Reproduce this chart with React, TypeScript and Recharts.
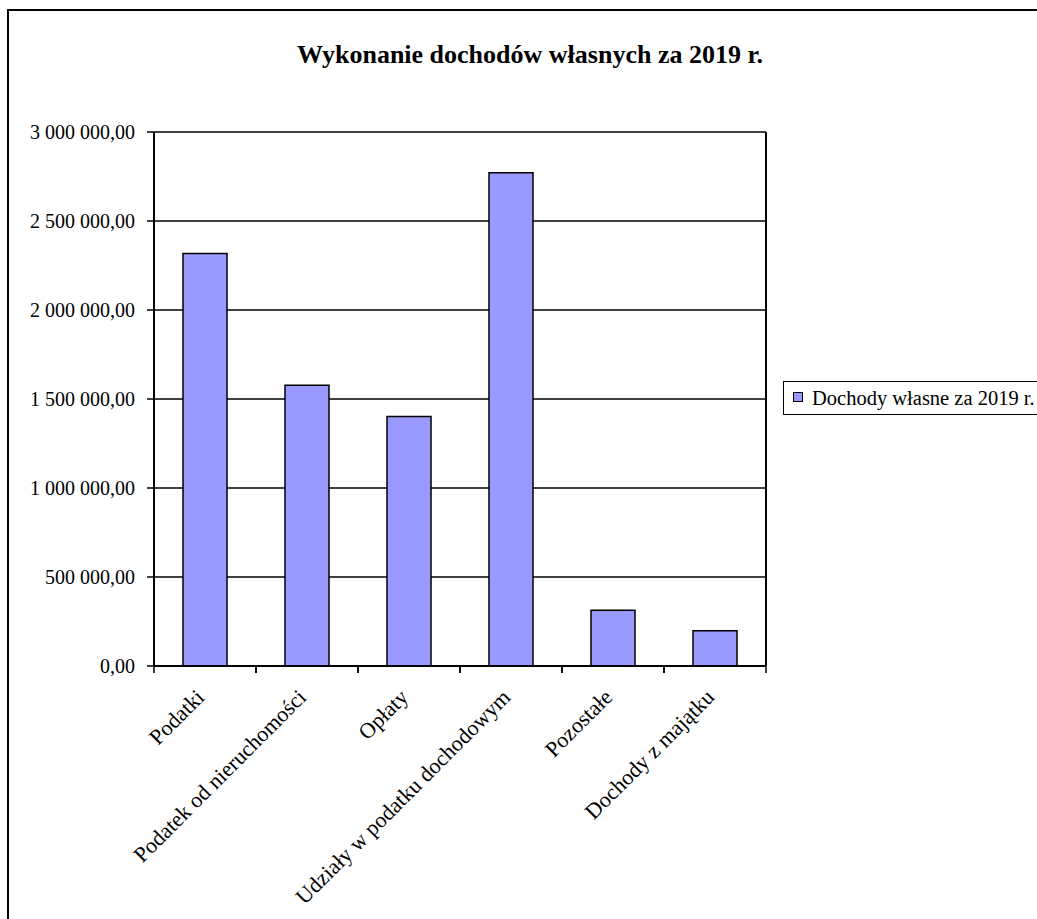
import React from "react";
import {
  BarChart,
  Bar,
  XAxis,
  YAxis,
  CartesianGrid,
  Legend,
} from "recharts";

const categories = [
  "Podatki",
  "Podatek od nieruchomości",
  "Opłaty",
  "Udziały w podatku dochodowym",
  "Pozostałe",
  "Dochody z majątku",
];

const values = [2318000, 1577000, 1401000, 2771000, 313000, 198000];

const yTicks = [0, 500000, 1000000, 1500000, 2000000, 2500000, 3000000];

const seriesName = "Dochody własne za 2019 r.";
const title = "Wykonanie dochodów własnych za 2019 r.";

const data = categories.map((name, i) => ({ name, value: values[i] }));

const FONT = '"Liberation Serif", "Times New Roman", serif';

// 3000000 -> "3 000 000,00"
const fmt = (v: number) => {
  const [int, dec] = v.toFixed(2).split(".");
  return int.replace(/\B(?=(\d{3})+(?!\d))/g, " ") + "," + dec;
};

// category label, plus Excel-style tick marks on the category boundaries
const CatTick = (props: any) => {
  const { x, y, payload, width, visibleTicksCount } = props;
  const half =
    width && visibleTicksCount ? width / visibleTicksCount / 2 : 51;
  return (
    <g>
      <line x1={x - half} y1={y} x2={x - half} y2={y + 7} stroke="#000" strokeWidth={1.5} />
      <line x1={x + half} y1={y} x2={x + half} y2={y + 7} stroke="#000" strokeWidth={1.5} />
      <g transform={`translate(${x - 8},${y + 24})`}>
        <text
          x={0}
          y={0}
          dy="0.55em"
          textAnchor="end"
          transform="rotate(-45)"
          fontFamily={FONT}
          fontSize={22}
          fill="#000"
        >
          {payload.value}
        </text>
      </g>
    </g>
  );
};

const NoTick = () => <g />;

const renderLegend = (props: any) => (
  <div
    style={{
      border: "1px solid #000",
      background: "#fff",
      height: 34,
      width: 258,
      boxSizing: "border-box",
      display: "flex",
      alignItems: "center",
      paddingLeft: 9,
      fontFamily: FONT,
      fontSize: 20.5,
      color: "#000",
      whiteSpace: "nowrap",
    }}
  >
    {(props.payload || []).map((e: any) => (
      <span key={e.value} style={{ display: "flex", alignItems: "center" }}>
        <span
          style={{
            display: "inline-block",
            width: 8,
            height: 8,
            background: "#9999FF",
            border: "1px solid #000",
            marginRight: 9,
            marginTop: -2,
          }}
        />
        {e.value}
      </span>
    ))}
  </div>
);

export default function App() {
  return (
    <div
      style={{
        position: "absolute",
        left: 0,
        top: 0,
        width: 1037,
        height: 919,
        overflow: "hidden",
        background: "#fff",
      }}
    >
      <div
        style={{
          position: "absolute",
          left: 7,
          top: 9,
          width: 1100,
          height: 1000,
          border: "2px solid #000",
        }}
      />
      <div
        style={{
          position: "absolute",
          left: 0,
          top: 40,
          width: 1060,
          textAlign: "center",
          fontFamily: FONT,
          fontWeight: "bold",
          fontSize: 26,
          color: "#000",
        }}
      >
        {title}
      </div>
      <div style={{ position: "absolute", left: 0, top: 0 }}>
        <BarChart
          width={1037}
          height={919}
          data={data}
          margin={{ top: 132, right: 270, left: 0, bottom: 0 }}
        >
          <CartesianGrid
            horizontal
            vertical={false}
            stroke="#000"
            strokeWidth={1.5}
            yAxisId="left"
          />
          <XAxis
            dataKey="name"
            height={253}
            interval={0}
            axisLine={{ stroke: "#000", strokeWidth: 2 }}
            tickLine={false}
            tickSize={0}
            tickMargin={0}
            tick={<CatTick />}
          />
          <YAxis
            yAxisId="left"
            width={154}
            domain={[0, 3000000]}
            ticks={yTicks}
            tickFormatter={fmt}
            axisLine={{ stroke: "#000", strokeWidth: 2 }}
            tickLine={{ stroke: "#000", strokeWidth: 1.5 }}
            tickSize={7}
            tickMargin={12}
            tick={{ fill: "#000", fontFamily: FONT, fontSize: 20 }}
          />
          <YAxis
            yAxisId="right"
            orientation="right"
            width={1}
            domain={[0, 3000000]}
            ticks={yTicks}
            tick={<NoTick />}
            tickLine={false}
            axisLine={{ stroke: "#000", strokeWidth: 2 }}
          />
          <Legend
            layout="horizontal"
            align="center"
            verticalAlign="middle"
            content={renderLegend}
            wrapperStyle={{ left: 783, top: 381, width: 258 }}
          />
          <Bar
            yAxisId="left"
            dataKey="value"
            name={seriesName}
            fill="#9999FF"
            stroke="#000"
            strokeWidth={1.5}
            barSize={44}
            isAnimationActive={false}
          />
        </BarChart>
      </div>
    </div>
  );
}
